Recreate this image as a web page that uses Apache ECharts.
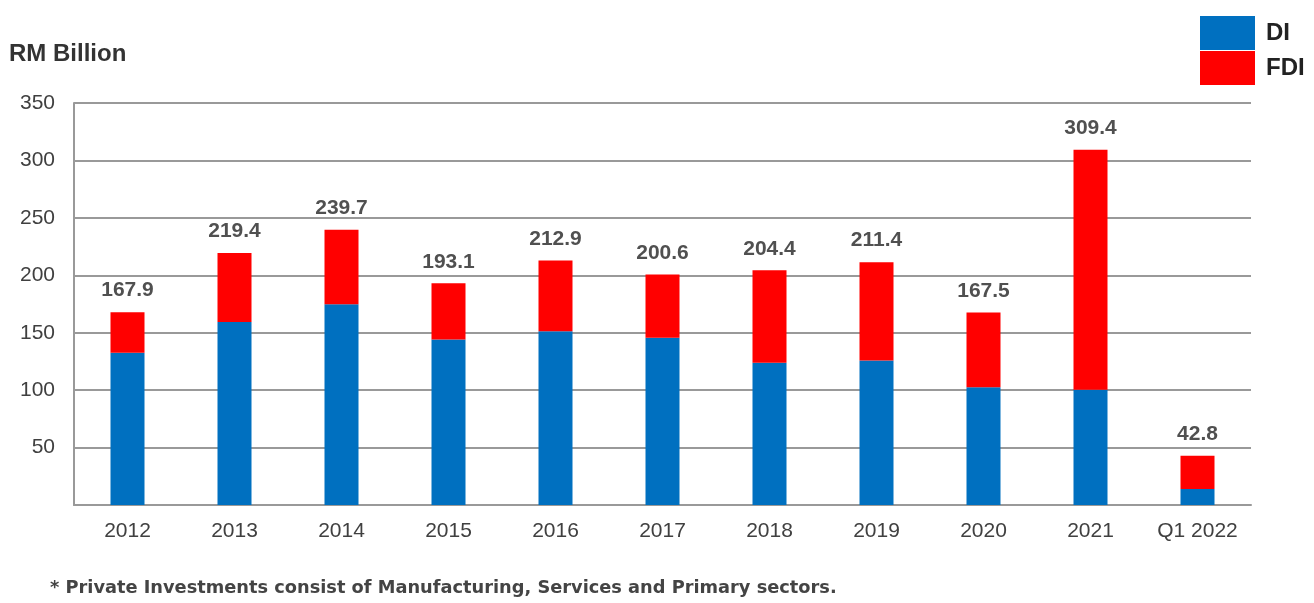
<!DOCTYPE html>
<html><head><meta charset="utf-8">
<script src="https://cdn.jsdelivr.net/npm/echarts@6/dist/echarts.min.js"></script>
<style>html,body{margin:0;padding:0;background:#fff}#c{width:1314px;height:603px}</style>
</head><body><div id="c"></div>
<script>
const categories = ['2012','2013','2014','2015','2016','2017','2018','2019','2020','2021','Q1 2022'];
const totals = [167.9, 219.4, 239.7, 193.1, 212.9, 200.6, 204.4, 211.4, 167.5, 309.4, 42.8];
const diValues = [132.6, 159.3, 174.8, 144.0, 151.2, 145.7, 123.9, 125.9, 102.6, 100.3, 14.0];
const fdiValues = totals.map((t, i) => +(t - diValues[i]).toFixed(1));
const yTicks = { min: 0, max: 350, interval: 50 };

const chart = echarts.init(document.getElementById('c'));
chart.setOption({
  animation: false,
  grid: { left: 74, right: 63, top: 103, bottom: 98 },
  legend: {
    orient: 'vertical', left: 1195, top: 11, itemWidth: 55, itemHeight: 34, itemGap: 1,
    icon: 'rect',
    textStyle: { fontFamily: 'Liberation Sans', fontWeight: 'bold', fontSize: 24, color: '#222', padding: [0,0,10,6] },
    data: ['DI', 'FDI']
  },
  graphic: [
    { type: 'text', left: 9, top: 42, style: { text: 'RM Billion', font: 'bold 24px "Liberation Sans"', fill: '#333' } },
    { type: 'text', left: 50, top: 579, style: { text: '* Private Investments consist of Manufacturing, Services and Primary sectors.', font: 'bold 17.8px "DejaVu Sans"', fill: '#444' } }
  ],
  xAxis: {
    type: 'category', data: categories,
    axisLine: { lineStyle: { color: '#999', width: 2 } },
    axisTick: { show: false },
    axisLabel: { margin: 16, fontFamily: 'Liberation Sans', fontSize: 21, color: '#404040' }
  },
  yAxis: {
    type: 'value', min: yTicks.min, max: yTicks.max, interval: yTicks.interval,
    axisLine: { show: true, lineStyle: { color: '#999', width: 2 } },
    axisTick: { show: false },
    splitLine: { lineStyle: { color: '#999', width: 2 } },
    axisLabel: { margin: 19, fontFamily: 'Liberation Sans', fontSize: 21, color: '#404040',
      formatter: v => v === 0 ? '' : String(v) }
  },
  series: [
    { name: 'DI', type: 'bar', stack: 'a', data: diValues, barWidth: 34,
      itemStyle: { color: '#0070C0' } },
    { name: 'FDI', type: 'bar', stack: 'a', data: fdiValues, barWidth: 34,
      itemStyle: { color: '#FF0000' },
      label: { show: true, position: 'top', distance: 11,
        formatter: p => totals[p.dataIndex].toFixed(1),
        fontFamily: 'Liberation Sans', fontWeight: 'bold', fontSize: 21, color: '#505050' } }
  ]
});
</script></body></html>
